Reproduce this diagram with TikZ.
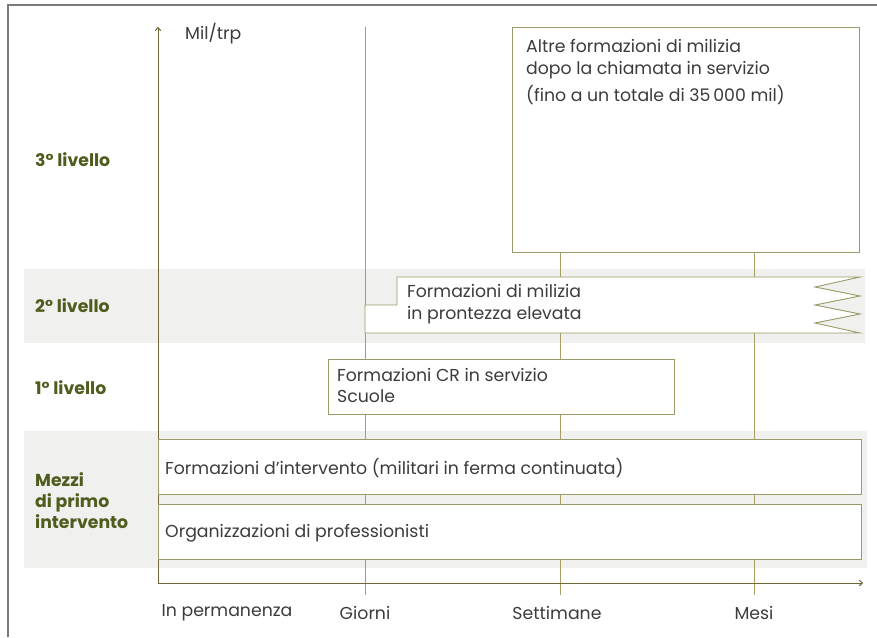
\documentclass[tikz,border=0pt]{standalone}
\usepackage{fontspec}
\setmainfont{Poppins}
\usetikzlibrary{arrows.meta}
\definecolor{frame}{HTML}{7A7A7A}
\definecolor{axis}{HTML}{6E6A38}
\definecolor{grid}{HTML}{A59F62}
\definecolor{boxc}{HTML}{9C9A68}
\definecolor{lab}{HTML}{4E5C1E}
\definecolor{txtc}{HTML}{3C3C3C}
\definecolor{band}{HTML}{F0F0EE}
\tikzset{
  boxn/.style={draw=boxc, line width=0.9pt, fill=white, anchor=north west, inner sep=0pt},
  txt/.style={text=txtc, font=\fontsize{17.3}{22.5}\selectfont, align=left, inner sep=0pt, anchor=west},
  lvl/.style={text=lab, font=\fontsize{17.3}{21}\selectfont\bfseries, align=left, inner sep=0pt, anchor=west},
  xl/.style={text=txtc, font=\fontsize{17.3}{22}\selectfont, inner sep=0pt},
  gridl/.style={draw=grid, line width=0.9pt},
  axl/.style={draw=axis, line width=1pt}
}
\begin{document}
\begin{tikzpicture}[x=1pt,y=-1pt]
\useasboundingbox (0,0) rectangle (877,637);
% frame
\draw[frame, line width=1.2pt] (8,637) -- (8,5) -- (877,5);
% bands
\fill[band] (24,269) rectangle (865,343);
\fill[band] (24,431) rectangle (867,568);
% grid lines
\coordinate (gT) at (365,27);
\coordinate (gB) at (365,595);
\coordinate (sT) at (560,252);
\coordinate (sB) at (560,595);
\coordinate (mT) at (754,252);
\coordinate (mB) at (754,595);
\draw[gridl] (gT) -- (gB);
\draw[gridl] (sT) -- (sB);
\draw[gridl] (mT) -- (mB);
% axes
\coordinate (O) at (158,583);
\coordinate (Yt) at (158,27);
\coordinate (Xr) at (863,583);
\draw[axl, -{To[length=4pt,width=6pt]}] (O) -- (Yt);
\draw[axl, -{To[length=4pt,width=6pt]}] (O) -- (Xr);
\node[xl, anchor=west] (mil) at (185,34) {Mil/trp};
% box 3
\node[boxn, minimum width=347pt, minimum height=225pt] (b3) at (512,27) {};
\node[txt, anchor=north west] (t3) at ([xshift=14pt,yshift=-12pt]b3.north west) {Altre formazioni di milizia\\dopo la chiamata in servizio\\[4pt](fino a un totale di 35\,000 mil)};
% box 2
\draw[draw=boxc, line width=0.9pt, fill=white] (397,277) -- (860,277) -- (815,287) -- (860,296) -- (815,305) -- (860,314) -- (815,323) -- (860,333) -- (365,333) -- (365,305) -- (397,305) -- cycle;
\node[txt] (t2) at (407,304) {Formazioni di milizia\\in prontezza elevata};
% box 1
\node[boxn, minimum width=346pt, minimum height=55pt] (b1) at (328,359) {};
\node[txt, font=\fontsize{17.3}{21}\selectfont] (t1) at ([xshift=9pt,yshift=1pt]b1.west) {Formazioni CR in servizio\\Scuole};
% first intervention boxes
\node[boxn, minimum width=703pt, minimum height=55pt] (bi) at (158,439) {};
\node[txt] (ti) at ([xshift=7pt,yshift=-1pt]bi.west) {Formazioni d\symbol{39}intervento (militari in ferma continuata)};
\node[boxn, minimum width=703pt, minimum height=55pt] (bo) at (158,504) {};
\node[txt] (to) at ([xshift=7pt,yshift=-1pt]bo.west) {Organizzazioni di professionisti};
% level labels
\node[lvl] (l3) at (35,160) {3° livello};
\node[lvl] (l2) at (35,306) {2° livello};
\node[lvl] (l1) at (35,388) {1° livello};
\node[lvl] (l0) at (35,501) {Mezzi\\di primo\\intervento};
% x labels
\node[xl] (x0) at (227,613) {In permanenza};
\node[xl] (x1) at (365,613) {Giorni};
\node[xl] (x2) at (557,613) {Settimane};
\node[xl] (x3) at (754,613) {Mesi};
\end{tikzpicture}
\end{document}
